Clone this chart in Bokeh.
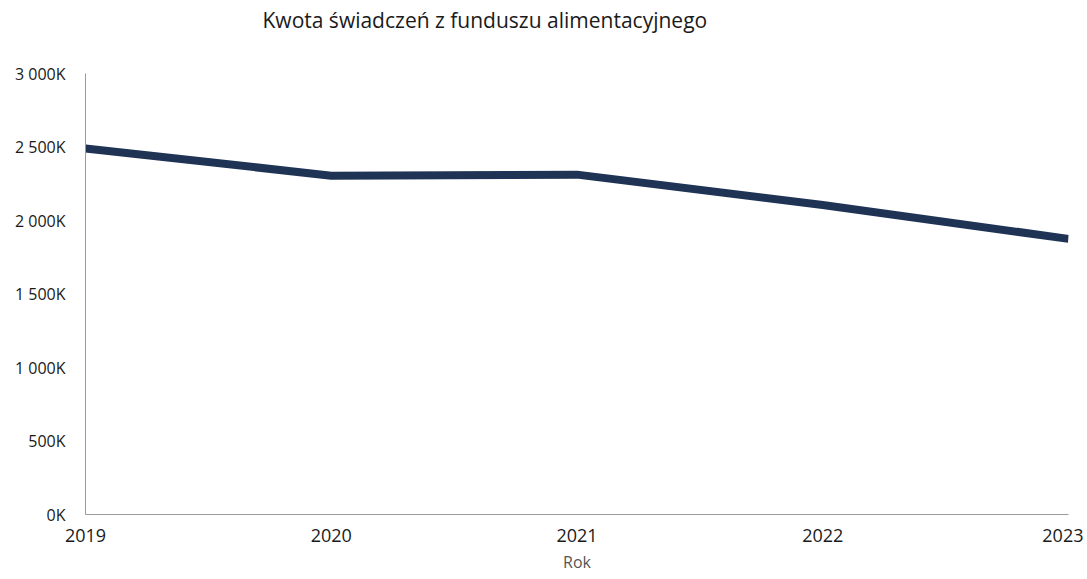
from bokeh.plotting import figure
from bokeh.models import Range1d, FixedTicker, Title
from bokeh.embed import file_html
from bokeh.resources import INLINE

years = [2019, 2020, 2021, 2022, 2023]
amounts = [2490000, 2305000, 2312000, 2105000, 1875000]
y_ticks = [0, 500000, 1000000, 1500000, 2000000, 2500000, 3000000]
y_tick_labels = ["0K", "500K", "1 000K", "1 500K", "2 000K", "2 500K", "3 000K"]
title_text = "Kwota świadczeń z funduszu alimentacyjnego"
x_label = "Rok"

FONT = "Open Sans"

p = figure(width=1083, height=579, output_backend="svg", toolbar_location=None,
           x_range=Range1d(2019, 2023), y_range=Range1d(0, 3000000),
           min_border_left=85, min_border_right=15, min_border_top=0, min_border_bottom=65)
p.outline_line_color = None
p.xgrid.grid_line_color = None
p.ygrid.grid_line_color = None

p.line(years, amounts, line_width=8, line_color="#1f3355", line_join="round")

spacer = Title(text=" ", text_font=FONT, text_font_size="20px", standoff=8)
p.add_layout(spacer, "above")
main_title = Title(text=title_text, align="left", offset=177, text_font=FONT,
                   text_font_size="21px", text_font_style="normal",
                   text_color="#1a1a1a", standoff=6)
p.add_layout(main_title, "above")

p.xaxis.ticker = FixedTicker(ticks=years)
p.yaxis.ticker = FixedTicker(ticks=y_ticks)
p.yaxis.major_label_overrides = {t: l for t, l in zip(y_ticks, y_tick_labels)}
for ax in (p.xaxis, p.yaxis):
    ax.axis_line_color = "#9a9a9a"
    ax.axis_line_width = 1
    ax.major_tick_line_color = None
    ax.minor_tick_line_color = None
    ax.major_label_text_font = FONT
    ax.major_label_text_color = "#1a1a1a"
p.xaxis.major_label_text_font_size = "18px"
p.yaxis.major_label_text_font_size = "16px"
p.xaxis.major_label_standoff = 8
p.yaxis.major_label_standoff = 14
p.xaxis.axis_label = x_label
p.xaxis.axis_label_text_font = FONT
p.xaxis.axis_label_text_font_size = "16px"
p.xaxis.axis_label_text_font_style = "normal"
p.xaxis.axis_label_text_color = "#555555"
p.xaxis.axis_label_standoff = 6

open("out.html", "w").write(file_html(p, INLINE))
